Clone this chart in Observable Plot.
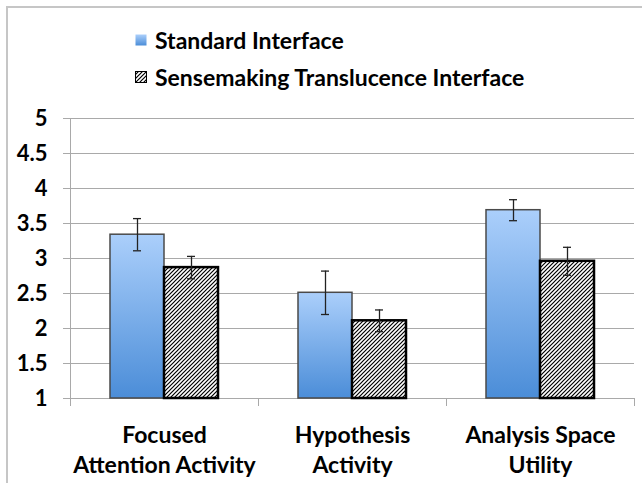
<!DOCTYPE html>
<html><head><meta charset="utf-8">
<script src="https://cdn.jsdelivr.net/npm/d3@7"></script>
<script src="https://cdn.jsdelivr.net/npm/@observablehq/plot@0.6"></script>
<style>
body{margin:0;background:#fff;}
#wrap{position:relative;width:642px;height:483px;overflow:hidden;font-family:Lato, sans-serif;font-weight:700;background:#fff;}
#border{position:absolute;left:6px;top:6px;width:700px;height:600px;border-left:2px solid #c6c6c6;border-top:2px solid #c6c6c6;}
#legend{position:absolute;left:135px;top:0;}
.row{position:absolute;left:0;display:flex;align-items:center;white-space:nowrap;font-size:23px;line-height:26px;color:#000;}
.sw{width:12px;height:12px;margin-right:8px;box-sizing:border-box;}
#chart{position:absolute;left:0;top:0;}
</style></head><body>
<svg width="0" height="0" style="position:absolute">
  <defs>
    <linearGradient id="blueGrad" x1="0" y1="0" x2="0" y2="1">
      <stop offset="0" stop-color="#abcffb"/>
      <stop offset="1" stop-color="#4b8dd8"/>
    </linearGradient>
    <pattern id="hatch" patternUnits="userSpaceOnUse" width="4" height="4">
      <rect width="4" height="4" fill="#fff"/>
      <path d="M-1,1 L1,-1 M0,4 L4,0 M3,5 L5,3" stroke="#000" stroke-width="1.2"/>
    </pattern>
  </defs>
</svg>
<div id="wrap">
  <div id="border"></div>
  <div id="chart"></div>
  <div id="legend"></div>
</div>
<script>
const categories = ["Focused\nAttention Activity", "Hypothesis\nActivity", "Analysis Space\nUtility"];
const series = ["Standard Interface", "Sensemaking Translucence Interface"];
const standardMeans = [3.34, 2.51, 3.69];
const standardErrors = [0.23, 0.31, 0.15];
const translucenceMeans = [2.87, 2.11, 2.96];
const translucenceErrors = [0.16, 0.155, 0.20];
const yTicks = [1, 1.5, 2, 2.5, 3, 3.5, 4, 4.5, 5];
const yTickLabels = ["1", "1.5", "2", "2.5", "3", "3.5", "4", "4.5", "5"];

const rows = [];
categories.forEach((c, i) => {
  rows.push({category: c, series: series[0], mean: standardMeans[i], err: standardErrors[i]});
  rows.push({category: c, series: series[1], mean: translucenceMeans[i], err: translucenceErrors[i]});
});
const std = rows.filter(d => d.series === series[0]);
const trn = rows.filter(d => d.series === series[1]);
const base = yTicks[0];
const gridColor = "#a9a9a9";

const chart = Plot.plot({
  width: 642,
  height: 483,
  marginLeft: 70,
  marginRight: 8,
  marginTop: 118,
  marginBottom: 85,
  style: "font-family: Lato, sans-serif; font-weight: 700; background: transparent; overflow: visible;",
  fx: {domain: categories, padding: 0, axis: null},
  x: {domain: series, paddingInner: 0, paddingOuter: 0.74, axis: null},
  y: {domain: [yTicks[0], yTicks[yTicks.length - 1]], axis: null},
  marks: [
    Plot.gridY(yTicks, {stroke: gridColor, strokeOpacity: 1, strokeWidth: 1}),
    Plot.frame({anchor: "right", stroke: gridColor, insetTop: 280, insetBottom: -7}),
    Plot.frame({anchor: "left", stroke: gridColor, insetBottom: -7, fx: () => categories[0]}),
    Plot.axisY(yTicks, {
      tickFormat: (d, i) => yTickLabels[i], label: null,
      fontSize: 22, tickSize: 7, tickPadding: 16, stroke: gridColor, fill: "#000"
    }),
    Plot.axisFx({anchor: "bottom", tickSize: 0, tickPadding: 23, fontSize: 23, lineHeight: 1.3, label: null, fill: "#000"}),
    Plot.barY(std, {fx: "category", x: "series", y1: base, y2: "mean", fill: "url(#blueGrad)", stroke: "#4a4a4a", strokeWidth: 1.5}),
    Plot.barY(trn, {fx: "category", x: "series", y1: base, y2: "mean", fill: "url(#hatch)", stroke: "#000", strokeWidth: 2.5}),
    Plot.ruleX(rows, {fx: "category", x: "series", y1: d => d.mean - d.err, y2: d => d.mean + d.err, stroke: "#222", strokeWidth: 1.3}),
    Plot.tickY(rows, {fx: "category", x: "series", y: d => d.mean - d.err, insetLeft: 23, insetRight: 23, stroke: "#222", strokeWidth: 1.3}),
    Plot.tickY(rows, {fx: "category", x: "series", y: d => d.mean + d.err, insetLeft: 23, insetRight: 23, stroke: "#222", strokeWidth: 1.3})
  ]
});
document.getElementById("chart").appendChild(chart);

const legend = d3.select("#legend");
const swatches = ["url(#blueGrad)", "url(#hatch)"];
series.forEach((s, i) => {
  const row = legend.append("div").attr("class", "row").style("top", (i === 0 ? 27 : 64) + "px");
  row.append("svg").attr("class", "sw").attr("width", 12).attr("height", 12)
    .append("rect").attr("x", 0.5).attr("y", 0.5).attr("width", 11).attr("height", 11)
    .attr("fill", swatches[i]).attr("stroke", i === 0 ? "none" : "#000").attr("stroke-width", 1);
  row.append("span").text(s);
});
</script>
</body></html>
